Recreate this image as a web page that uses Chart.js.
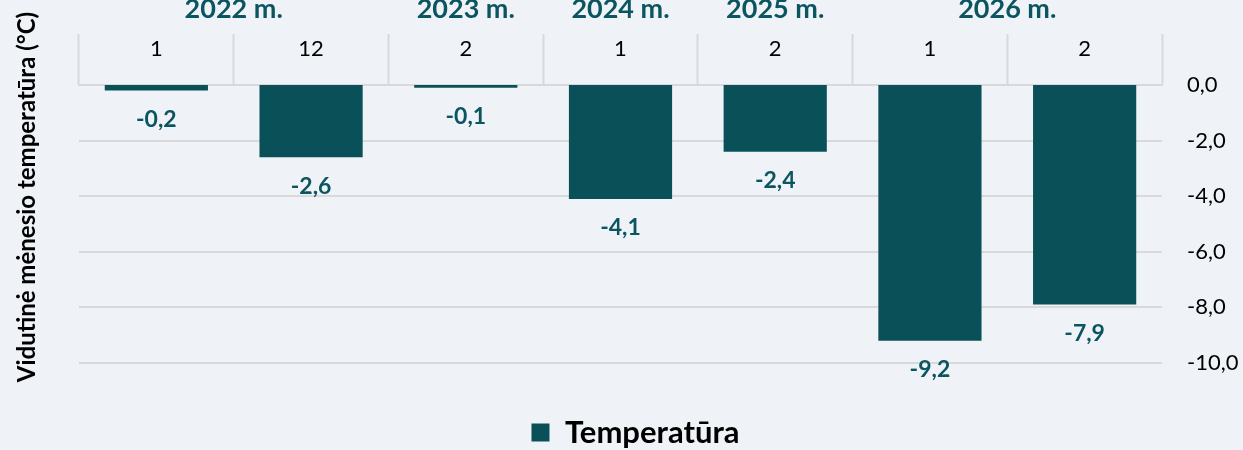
<!DOCTYPE html>
<html>
<head>
<meta charset="utf-8">
<script src="https://cdn.jsdelivr.net/npm/chart.js@4.4.1/dist/chart.umd.min.js"></script>
<style>
  html, body { margin: 0; padding: 0; background: #eff3f7; }
  #wrap { width: 1243px; height: 450px; }
</style>
</head>
<body>
<div id="wrap"><canvas id="temperatura"></canvas></div>
<script>
// duomenys
const menesiai = ["1", "12", "2", "1", "2", "1", "2"];
const temperatura = [-0.2, -2.6, -0.1, -4.1, -2.4, -9.2, -7.9];
const metai = ["2022 m.", "2023 m.", "2024 m.", "2025 m.", "2026 m."];
const metuStulpeliai = [2, 1, 1, 1, 2]; // kiek menesiu kiekvienuose metuose
const yTicks = [0, -2, -4, -6, -8, -10];

const teal = "#0a5058";
const tekstoSpalva = "#0b5560";
const tinklas = "#d9d9d9";
const sriftas = "Lato, 'Open Sans', sans-serif";

function kablelis(v, d) {
    return v.toFixed(d).replace(".", ",");
}

// metu eilute virs menesiu
const metuPlugin = {
    id: "metai",
    afterDraw(chart) {
        const ctx = chart.ctx;
        const x = chart.scales.x;
        let idx = 0;
        ctx.save();
        ctx.font = "bold 27px " + sriftas;
        ctx.fillStyle = tekstoSpalva;
        ctx.textAlign = "center";
        ctx.textBaseline = "alphabetic";
        metai.forEach((m, i) => {
            const pirmas = idx;
            const paskutinis = idx + metuStulpeliai[i] - 1;
            const cx = (x.getPixelForValue(pirmas) + x.getPixelForValue(paskutinis)) / 2;
            ctx.fillText(m, cx, 18);
            idx += metuStulpeliai[i];
        });
        ctx.restore();
    },
};

// reiksmes po stulpeliais
const reiksmiuPlugin = {
    id: "reiksmes",
    afterDatasetsDraw(chart) {
        const ctx = chart.ctx;
        const meta = chart.getDatasetMeta(0);
        ctx.save();
        ctx.font = "bold 23px " + sriftas;
        ctx.fillStyle = tekstoSpalva;
        ctx.textAlign = "center";
        ctx.textBaseline = "middle";
        meta.data.forEach((bar, i) => {
            ctx.fillText(kablelis(temperatura[i], 1), bar.x, bar.y + 29);
        });
        ctx.restore();
    },
};

// asies pavadinimas kaireje
const asiesPavadinimas = {
    id: "asiesPavadinimas",
    afterDraw(chart) {
        const ctx = chart.ctx;
        ctx.save();
        ctx.translate(27, 197);
        ctx.rotate(-Math.PI / 2);
        ctx.font = "bold 24px " + sriftas;
        ctx.fillStyle = "#000";
        ctx.textAlign = "center";
        ctx.textBaseline = "middle";
        ctx.fillText("Vidutinė mėnesio temperatūra (°C)", 0, 0);
        ctx.restore();
    },
};

new Chart(document.getElementById("temperatura"), {
    type: "bar",
    data: {
        labels: menesiai,
        datasets: [
            {
                label: "Temperatūra",
                data: temperatura,
                backgroundColor: teal,
                categoryPercentage: 1,
                barPercentage: 0.667,
            },
        ],
    },
    options: {
        responsive: true,
        maintainAspectRatio: false,
        animation: false,
        layout: { padding: { left: 28, top: 0, right: 0, bottom: -8 } },
        plugins: {
            tooltip: { enabled: false },
            legend: {
                position: "bottom",
                labels: {
                    font: { family: sriftas, size: 31, weight: "bold" },
                    color: "#000",
                    boxWidth: 18,
                    boxHeight: 18,
                    padding: 54,
                },
            },
        },
        scales: {
            x: {
                position: "top",
                afterFit: (s) => { s.height = 85; },
                grid: {
                    offset: true,
                    drawOnChartArea: false,
                    drawTicks: true,
                    tickLength: 51,
                    tickColor: tinklas,
                    tickWidth: 2,
                },
                border: { display: true, color: tinklas, width: 2 },
                ticks: {
                    font: { family: sriftas, size: 22 },
                    color: "#000",
                    padding: -28,
                },
            },
            kaire: {
                position: "left",
                min: -10,
                max: 0,
                afterFit: (s) => { s.width = 51; },
                grid: { display: false },
                border: { display: false },
                ticks: { display: false },
            },
            y: {
                position: "right",
                min: -10,
                max: 0,
                afterBuildTicks: (s) => { s.ticks = yTicks.map((v) => ({ value: v })); },
                afterFit: (s) => { s.width = 81; },
                grid: { color: tinklas, lineWidth: 2, drawTicks: false },
                border: { display: false },
                ticks: {
                    font: { family: sriftas, size: 22 },
                    color: "#000",
                    padding: 25,
                    callback: (v) => kablelis(v, 1),
                },
            },
        },
    },
    plugins: [metuPlugin, reiksmiuPlugin, asiesPavadinimas],
});
</script>
</body>
</html>
